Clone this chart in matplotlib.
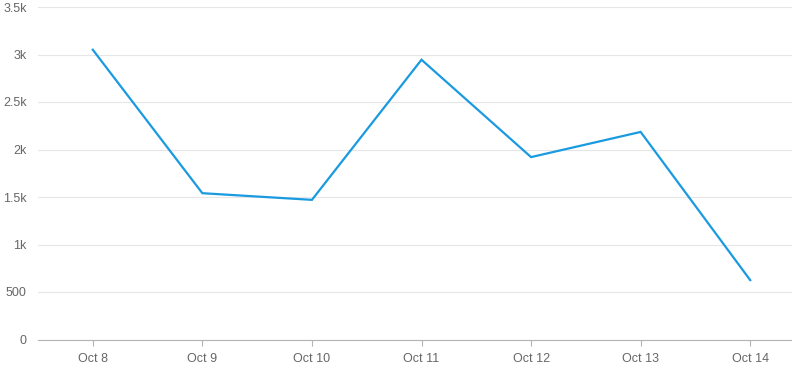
import matplotlib
matplotlib.use("Agg")
import matplotlib.pyplot as plt
from matplotlib.ticker import FuncFormatter

plt.rcParams["font.family"] = ["Liberation Sans", "DejaVu Sans"]

days = ["Oct 8", "Oct 9", "Oct 10", "Oct 11", "Oct 12", "Oct 13", "Oct 14"]
values = [3050, 1540, 1470, 2945, 1920, 2185, 625]

W, H = 792, 386
fig = plt.figure(figsize=(W / 100, H / 100), dpi=100)
# plot area: x 38..805 (last band clipped by the figure), y 7..339.5
ax = fig.add_axes([38 / W, (H - 339.5) / H, (805 - 38) / W, (339.5 - 7) / H])

x = range(len(days))
ax.plot(x, values, color="#1a9ae0", linewidth=1.6, solid_joinstyle="miter")

ax.set_xlim(-0.5, len(days) - 0.5)
ax.set_ylim(0, 3500)
ax.set_yticks(range(0, 3501, 500))

def kfmt(v, pos):
    if v == 0:
        return "0"
    if v < 1000:
        return f"{int(v)}"
    return f"{v / 1000:g}k"

ax.yaxis.set_major_formatter(FuncFormatter(kfmt))
ax.set_xticks(list(x))
ax.set_xticklabels(days)

ax.grid(axis="y", color="#e6e6e6", linewidth=0.8)
ax.set_axisbelow(True)
for s in ["top", "right", "left"]:
    ax.spines[s].set_visible(False)
ax.spines["bottom"].set_color("#b3b3b3")
ax.spines["bottom"].set_linewidth(0.8)

ax.tick_params(axis="y", length=0, pad=8, labelsize=9, labelcolor="#666666")
ax.tick_params(axis="x", length=4, width=0.8, color="#b3b3b3", pad=6,
               labelsize=9, labelcolor="#666666")

fig.savefig("out.png", dpi=100)
